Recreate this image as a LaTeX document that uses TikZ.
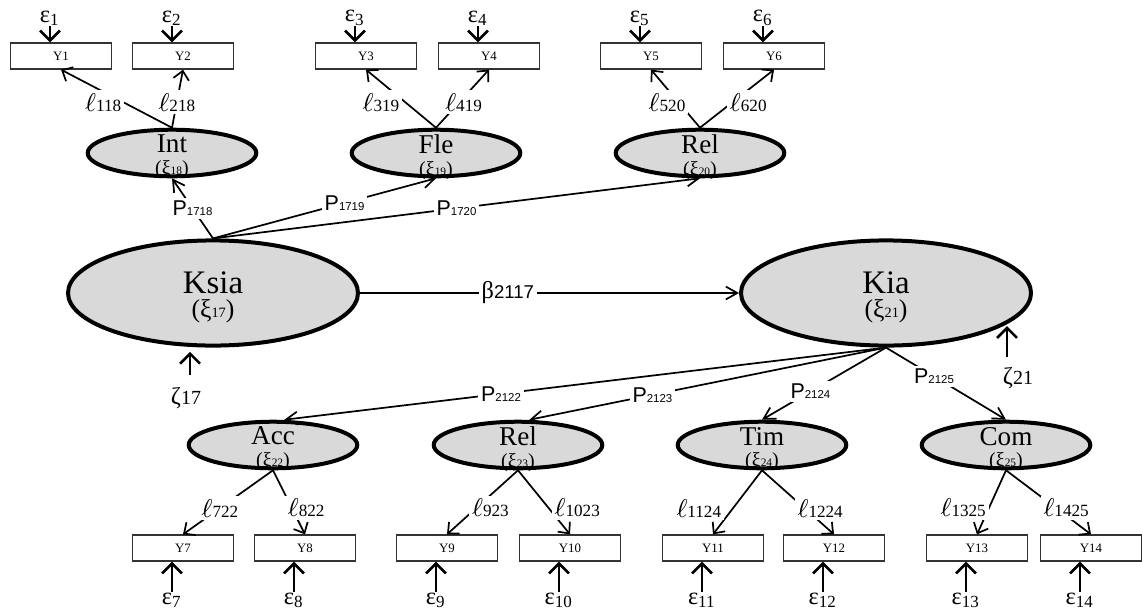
\documentclass[tikz,border=0pt]{standalone}
\usepackage{fontspec}
\setmainfont{Liberation Serif}
\setsansfont{Liberation Sans}
\usetikzlibrary{arrows.meta,calc,shapes.geometric}

\definecolor{latfill}{RGB}{217,217,217}

\newcommand{\ld}[1]{{\fontsize{9.5}{9}\selectfont$\ell$}{\fontsize{6}{6}\selectfont#1}}
\newcommand{\pp}[1]{{\sffamily\fontsize{7.5}{7}\selectfont P{\fontsize{4}{4}\selectfont#1}}}
\newcommand{\xs}[1]{{\fontsize{7}{7}\selectfont(ξ{\fontsize{4}{4}\selectfont#1})}}

\tikzset{
  latent/.style={ellipse, draw, line width=1.4pt, fill=latfill, inner sep=0pt},
  bigfac/.style={latent, minimum width=101.5pt, minimum height=36.8pt},
  subfac/.style={latent, minimum width=59pt, minimum height=16.3pt},
  facname/.style={align=center, inner sep=0pt, font=\fontsize{9.5}{9}\selectfont},
  bigname/.style={align=center, inner sep=0pt, font=\fontsize{11.5}{11.5}\selectfont},
  ind/.style={draw=black!80, line width=0.45pt, minimum width=35.4pt, minimum height=9.1pt,
    inner sep=0pt, font=\fontsize{4.5}{5}\selectfont},
  errl/.style={inner sep=0pt, font=\fontsize{8.5}{8}\selectfont},
  err/.style={line width=0.9pt, -{Straight Barb[length=3.5pt,width=7pt]}},
  load/.style={line width=0.6pt, -{Straight Barb[length=3pt,width=5.5pt]}},
  struct/.style={line width=0.6pt, -{Straight Barb[length=4pt,width=4.5pt]}},
  lbl/.style={fill=white, inner sep=1pt},
}

\begin{document}
\begin{tikzpicture}[x=0.35pt, y=-0.35pt]
  \useasboundingbox (0,0) rectangle (1142,607);

  % latent variables
  \node[bigfac] (Ksia) at (213,293) {};
  \node[bigfac] (Kia) at (886,293) {};
  \node[subfac] (Int) at (172,153) {};
  \node[subfac] (Fle) at (436,153) {};
  \node[subfac] (RelA) at (700,153) {};
  \node[subfac] (Acc) at (273,445) {};
  \node[subfac] (RelB) at (518,445) {};
  \node[subfac] (Tim) at (762,445) {};
  \node[subfac] (Com) at (1006,445) {};

  \node[bigname] (Ksia-t) at ($(Ksia)+(0,4)$) {Ksia\\[-3pt]{\fontsize{9}{9}\selectfont(ξ{\fontsize{5}{5}\selectfont17})}};
  \node[bigname] (Kia-t) at ($(Kia)+(0,4)$) {Kia\\[-3pt]{\fontsize{9}{9}\selectfont(ξ{\fontsize{5}{5}\selectfont21})}};
  \foreach \f/\t/\s in {Int/Int/18, Fle/Fle/19, RelA/Rel/20, Acc/Acc/22, RelB/Rel/23, Tim/Tim/24, Com/Com/25}
    \node[facname] (\f-t) at ($(\f)+(0,4)$) {\t\\[-1.4pt]\xs{\s}};

  % indicators
  \foreach \n/\x in {1/61,2/183,3/366,4/489,5/651,6/774} {
    \node[ind] (Y\n) at (\x,56) {Y\n};
    \node[errl, anchor=south] (e\n) at (\x-11,26) {ε\textsubscript{\n}};
    \draw[err] (e\n.south) -- (e\n.south |- Y\n.north);
  }
  \foreach \n/\x in {7/183,8/305,9/447,10/570,11/713,12/834,13/977,14/1091} {
    \node[ind] (Y\n) at (\x,548) {Y\n};
    \node[errl, anchor=north] (e\n) at (\x-11,592) {ε\textsubscript{\n}};
    \draw[err] (e\n.north) -- (e\n.north |- Y\n.south);
  }

  % loadings
  \draw[load] (Int.north) -- node[lbl, pos=.44, xshift=-7pt] {\ld{118}} (Y1.south);
  \draw[load] (Int.north) -- node[lbl, pos=.44] {\ld{218}} (Y2.south);
  \draw[load] (Fle.north) -- node[lbl, pos=.44, xshift=-8.5pt] {\ld{319}} (Y3.south);
  \draw[load] (Fle.north) -- node[lbl, pos=.44, xshift=1.5pt] {\ld{419}} (Y4.south);
  \draw[load] (RelA.north) -- node[lbl, pos=.44, xshift=-4pt] {\ld{520}} (Y5.south);
  \draw[load] (RelA.north) -- node[lbl, pos=.44, xshift=5.5pt] {\ld{620}} (Y6.south);

  \draw[load] (Acc.south) -- node[lbl, pos=.59] {\ld{722}} (Y7.north);
  \draw[load] (Acc.south) -- node[lbl, pos=.59, xshift=5pt] {\ld{822}} (Y8.north);
  \draw[load] (RelB.south) -- node[lbl, pos=.59, xshift=5pt] {\ld{923}} (Y9.north);
  \draw[load] (RelB.south) -- node[lbl, pos=.59, xshift=10pt] {\ld{1023}} (Y10.north);
  \draw[load] (Tim.south) -- node[lbl, pos=.59, xshift=-12pt] {\ld{1124}} (Y11.north);
  \draw[load] (Tim.south) -- node[lbl, pos=.59, xshift=5.5pt] {\ld{1224}} (Y12.north);
  \draw[load] (Com.south) -- node[lbl, pos=.59, xshift=-9pt] {\ld{1325}} (Y13.north);
  \draw[load] (Com.south) -- node[lbl, pos=.59, xshift=3.5pt] {\ld{1425}} (Y14.north);

  % structural paths
  \draw[struct] (Ksia.north) -- node[lbl, pos=.5] {\pp{1718}} (Int.south);
  \draw[struct] (Ksia.north) -- node[lbl, pos=.59] {\pp{1719}} (Fle.south);
  \draw[struct] (Ksia.north) -- node[lbl, pos=.5] {\pp{1720}} (RelA.south);
  \draw[struct] (Ksia.east) -- node[lbl, pos=.39] {{\fontsize{8.5}{9}\selectfont β}{\sffamily\fontsize{6.5}{7}\selectfont 2117}} (Kia.west);
  \draw[struct] (Kia.south) -- node[lbl, pos=.64] {\pp{2122}} ([xshift=4pt]Acc.north);
  \draw[struct] (Kia.south) -- node[lbl, pos=.655] {\pp{2123}} ([xshift=4pt]RelB.north);
  \draw[struct] (Kia.south) -- node[lbl, pos=.61] {\pp{2124}} (Tim.north);
  \draw[struct] (Kia.south) -- node[lbl, pos=.4] {\pp{2125}} (Com.north);

  % disturbances
  \node[errl] (z17) at (186,398) {ζ{\fontsize{7}{7}\selectfont17}};
  \coordinate (z17top) at ($(z17.north)+(4,-12)$);
  \draw[err, shorten >=1.5pt] (z17top) -- (z17top |- Ksia.south);
  \node[errl] (z21) at (1018,378) {ζ{\fontsize{7}{7}\selectfont21}};
  \coordinate (z21top) at ($(z21.north)+(-11,-10)$);
  \draw[err, shorten >=1.5pt] (z21top) -- (z21top |- Kia.-13.5);
\end{tikzpicture}
\end{document}
